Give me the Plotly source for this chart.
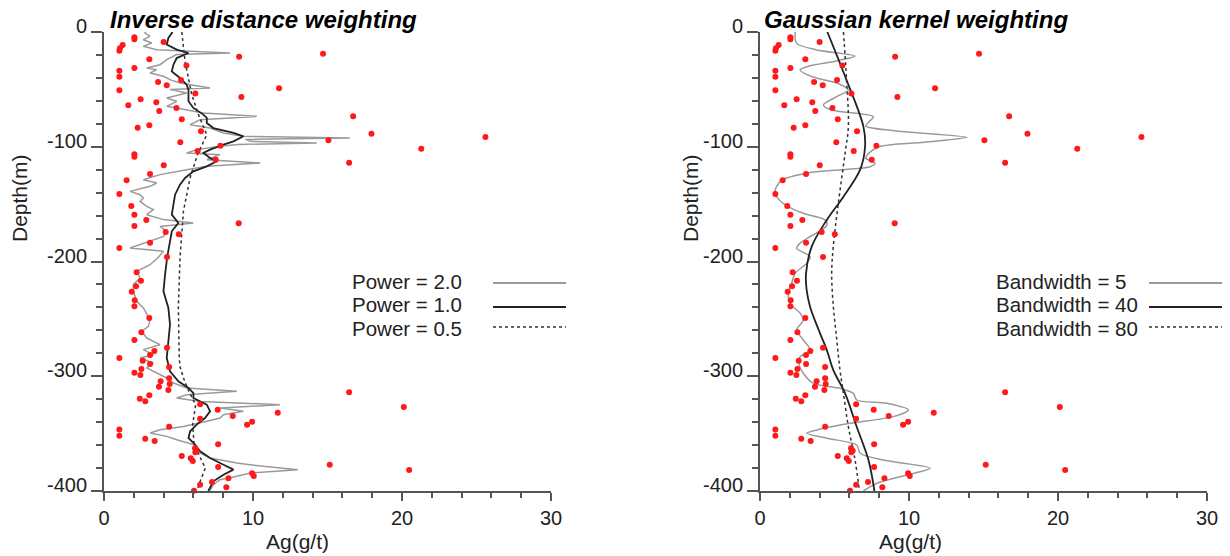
import plotly.graph_objects as go

# ---------------- data ----------------
sample_ag = [2.04, 2.04, 1.25, 1.07, 1.03, 4.0, 9.07, 14.7, 3.04, 5.53, 2.04, 1.03, 1.03, 5.17, 3.63, 4.21,
             11.75, 1.03, 6.13, 9.22, 2.46, 3.51, 1.63, 4.86, 3.71, 5.22, 16.72, 2.26, 3.04, 6.51, 17.95,
             25.6, 15.06, 5.12, 7.81, 6.29, 21.29, 2.04, 2.04, 7.5, 16.45, 4.01, 3.09, 1.52, 1.03, 1.83,
             2.04, 2.84, 9.04, 2.04, 4.14, 5.02, 3.09, 1.03, 4.23, 2.19, 2.48, 2.15, 1.86, 2.06, 2.04, 3.04,
             2.51, 2.04, 4.23, 3.38, 3.09, 1.03, 2.6, 3.09, 2.51, 4.37, 2.04, 2.44, 4.37, 3.8, 3.69, 4.41,
             4.32, 16.45, 3.04, 2.4, 2.77, 6.45, 20.12, 7.63, 11.66, 8.64, 6.45, 9.94, 9.6, 4.37, 1.03,
             1.03, 2.77, 3.4, 7.66, 6.11, 6.22, 6.13, 5.22, 5.82, 5.96, 15.15, 7.66, 20.48, 9.94, 10.05,
             8.35, 7.25, 6.45, 8.21, 6.04]
sample_depth = [-4.6, -6.3, -11.3, -14.2, -16.3, -8.7, -21.5, -18.9, -23.8, -29.3, -31.4, -33.7, -39.0,
                -41.8, -43.6, -46.5, -49.1, -50.8, -53.7, -56.6, -58.7, -61.3, -63.9, -66.2, -68.8, -76.1,
                -73.5, -83.4, -81.3, -86.5, -88.6, -91.5, -94.4, -96.1, -99.1, -103.7, -101.7, -106.6,
                -108.7, -111.3, -113.9, -116.2, -123.7, -129.2, -141.2, -151.6, -159.2, -163.8, -166.7,
                -169.1, -174.3, -176.3, -183.6, -188.2, -196.1, -209.4, -216.7, -221.6, -226.3, -233.8,
                -239.0, -249.2, -261.7, -268.4, -275.1, -278.0, -281.5, -284.1, -286.4, -289.3, -293.7,
                -291.9, -296.9, -298.9, -301.8, -304.4, -309.1, -306.8, -312.0, -314.0, -316.6, -319.5,
                -321.8, -324.5, -326.8, -329.1, -331.7, -334.6, -337.0, -339.6, -342.2, -343.9, -346.5,
                -351.8, -354.4, -356.4, -359.3, -362.8, -364.9, -366.3, -369.5, -371.5, -373.9, -377.1,
                -379.1, -381.7, -384.6, -386.9, -388.9, -392.2, -394.5, -396.8, -399.7]

# Inverse distance weighting curves
p20_depth = [0, -0.9, -3.8, -6.7, -9.6, -12.5, -15.4, -18.3, -19.7, -24.1, -28.5, -31.4, -32.8, -35.7, -38.6,
             -41.5, -44.4, -48.8, -50.2, -53.2, -57.5, -60.4, -64.8, -67.7, -70.6, -73.5, -76.4, -80.8,
             -83.7, -88.0, -90.9, -92.4, -93.6, -95.3, -96.7, -98.0, -99.6, -102.5, -105.4, -106.9,
             -111.3, -114.2, -117.1, -120.0, -124.3, -128.7, -131.6, -134.5, -138.9, -141.8, -144.7,
             -147.6, -151.9, -154.8, -159.2, -163.5, -166.4, -169.4, -173.7, -178.1, -182.4, -188.2,
             -191.1, -197.0, -202.8, -208.6, -214.4, -220.2, -226.0, -234.7, -240.5, -246.3, -250.7,
             -256.5, -260.9, -266.7, -272.5, -276.8, -281.2, -284.1, -288.5, -292.8, -297.2, -301.5,
             -305.9, -310.2, -313.1, -316.1, -319.0, -321.9, -324.8, -327.7, -330.6, -333.5, -336.4,
             -339.3, -343.7, -346.6, -349.5, -352.4, -355.3, -359.6, -365.4, -371.3, -375.6, -378.5,
             -381.4, -384.3, -387.2, -390.1, -394.5, -400.0]
p20_ag = [2.8, 2.75, 3.09, 2.64, 3.2, 2.64, 3.54, 8.46, 4.88, 4.21, 3.76, 2.87, 3.54, 3.09, 3.99,
          4.43, 5.1, 7.12, 4.43, 5.55, 4.21, 4.88, 4.21, 5.55, 6.67, 10.25, 6.45, 5.78,
          7.12, 8.02, 9.36, 16.5, 9.5, 9.81, 14.28, 9.0, 7.79, 6.22, 5.55, 7.79,
          6.9, 10.48, 6.9, 5.55, 3.76, 2.64, 3.54, 3.09, 1.75, 2.42, 2.64,
          2.42, 2.87, 3.31, 2.87, 3.99, 6.0, 3.76, 4.21, 3.99, 3.09, 1.75,
          3.99, 3.6, 3.09, 2.2, 2.42, 1.97, 1.97, 2.2, 2.64, 2.87, 3.09,
          2.98, 2.53, 2.87, 3.76, 2.64, 3.31, 2.42, 3.31, 2.87, 3.54, 4.21,
          4.66, 5.55, 8.91, 5.55, 4.88, 6.45, 11.82, 7.79, 9.36, 8.02, 7.79,
          6.9, 5.33, 3.76, 3.09, 4.21, 4.88, 6.0, 6.22, 7.12, 8.91, 10.7,
          13.0, 9.81, 8.91, 7.79, 7.34, 7.1]

p10_depth = [0, -0.9, -5.2, -11.0, -15.4, -18.3, -22.7, -28.5, -34.3, -40.1, -45.9, -50.3, -54.6, -60.4,
             -66.2, -72.0, -74.9, -79.3, -83.7, -88.0, -90.9, -95.3, -98.2, -102.5, -105.4, -109.8,
             -112.7, -117.1, -121.4, -127.2, -133.0, -141.8, -150.5, -159.2, -166.4, -173.7, -182.4,
             -191.1, -197.0, -211.5, -226.0, -240.5, -255.0, -269.6, -284.1, -295.7, -304.4, -310.2,
             -314.6, -319.0, -324.8, -330.6, -336.4, -342.2, -348.0, -353.8, -359.6, -365.4, -371.3,
             -377.1, -381.4, -385.8, -391.6, -400.0]
p10_ag = [4.6, 4.55, 4.32, 4.21, 4.88, 5.67, 4.88, 4.66, 4.55, 5.1, 5.55, 5.67, 5.67, 5.67,
          6.0, 6.67, 6.9, 6.9, 7.34, 8.69, 9.36, 8.69, 8.02, 7.12, 6.67, 7.12,
          7.57, 6.9, 6.0, 5.44, 5.1, 4.77, 4.66, 4.55, 4.99, 4.55, 4.43,
          4.32, 4.23, 4.1, 3.99, 4.32, 4.43, 4.32, 4.21, 4.43, 4.99, 5.67,
          6.0, 6.0, 6.9, 7.12, 6.78, 6.22, 5.78, 5.67, 6.11, 6.45, 7.12,
          8.02, 8.69, 8.02, 7.34, 7.0]

p05_depth = [0, -25.6, -54.6, -72.0, -89.5, -107.0, -127.0, -156.3, -197.0, -240.5, -284.0, -291.7,
             -304.0, -312.0, -325.0, -342.0, -360.0, -371.0, -380.0, -395.0, -400.0]
p05_ag = [5.22, 5.44, 5.89, 6.34, 6.9, 6.27, 5.78, 5.33, 5.1, 4.99, 5.05, 5.1,
          5.4, 5.66, 6.15, 5.95, 6.05, 6.45, 6.8, 6.35, 6.3]

# Gaussian kernel weighting curves
bw5_depth = [0, -9.9, -15.6, -20.9, -25.0, -30.0, -33.1, -39.0, -44.7, -50.5, -56.3, -63.6, -68.0, -73.8,
             -78.5, -82.0, -86.0, -91.8, -96.0, -100.0, -105.7, -110.0, -114.4, -117.4, -120.0, -123.0,
             -129.0, -135.0, -140.3, -145.0, -151.6, -158.0, -163.8, -168.0, -172.5, -178.0, -184.0,
             -188.5, -195.8, -201.6, -210.3, -219.0, -227.7, -236.4, -245.0, -251.0, -259.7, -268.4,
             -277.1, -283.0, -288.7, -297.4, -306.2, -310.5, -314.9, -320.7, -323.6, -329.4, -335.2,
             -341.0, -346.8, -349.7, -354.0, -359.9, -367.1, -373.0, -380.2, -386.0, -393.3, -400.0]
bw5_ag = [2.35, 2.46, 3.81, 6.38, 5.2, 3.2, 2.69, 3.5, 5.2, 5.93, 5.15, 4.25, 4.8, 7.61,
          7.3, 7.1, 9.0, 13.88, 11.0, 8.0, 7.3, 7.1, 7.72, 7.4, 5.5, 3.13,
          1.46, 1.1, 1.0, 1.2, 1.79, 2.9, 4.37, 4.5, 4.14, 3.4, 2.69,
          2.46, 3.36, 3.13, 2.35, 2.13, 1.9, 2.01, 2.69, 2.91, 2.46, 2.91,
          3.36, 2.69, 2.6, 2.91, 3.58, 5.37, 6.27, 6.49, 8.51, 9.96, 8.95,
          6.04, 3.81, 3.13, 4.48, 6.49, 6.72, 8.28, 11.42, 9.85, 7.84, 6.94]

bw40_depth = [0, -40.0, -82.5, -100.0, -120.0, -143.5, -163.8, -187.0, -210.3, -224.8, -239.4, -262.6,
              -277.0, -294.6, -314.9, -344.0, -373.0, -400.0]
bw40_ag = [4.52, 5.75, 6.94, 7.05, 6.72, 5.6, 4.48, 3.47, 3.09, 3.13, 3.36, 4.03,
           4.48, 4.92, 5.71, 6.49, 7.28, 7.68]

bw80_depth = [0, -40.0, -82.5, -105.7, -149.0, -187.0, -210.0, -239.0, -268.0, -294.6, -314.9, -344.0,
              -373.0, -400.0]
bw80_ag = [5.6, 5.8, 5.93, 5.71, 5.26, 4.92, 4.81, 4.92, 5.15, 5.37, 5.6, 5.93, 6.38, 6.67]

panel_titles = ["Inverse distance weighting", "Gaussian kernel weighting"]
legend_left = ["Power = 2.0", "Power = 1.0", "Power = 0.5"]
legend_right = ["Bandwidth = 5", "Bandwidth = 40", "Bandwidth = 80"]
x_title = "Ag(g/t)"
y_title = "Depth(m)"
y_ticks = [0, -100, -200, -300, -400]
y_ticktext = ["0", "-100", "-200", "-300", "-400"]
x_ticks = [0, 10, 20, 30]

# ---------------- figure ----------------
W, H = 1230, 556
FONT = "Liberation Sans, Arial, Helvetica, sans-serif"
TXT = "#222222"
AXC = "#555555"
GRAY = "#9a9a9a"
BLACK = "#222222"
DOT = "#333333"
RED = "rgb(255,25,25)"


def px(x):
    return x / W


def py(y):
    return (H - y) / H


fig = go.Figure()

curves = [
    ("x", "y", p20_ag, p20_depth, dict(color=GRAY, width=1.5)),
    ("x", "y", p10_ag, p10_depth, dict(color=BLACK, width=1.8)),
    ("x", "y", p05_ag, p05_depth, dict(color=DOT, width=1.5, dash="dot")),
    ("x2", "y2", bw5_ag, bw5_depth, dict(color=GRAY, width=1.5, shape="spline", smoothing=0.8)),
    ("x2", "y2", bw40_ag, bw40_depth, dict(color=BLACK, width=1.8, shape="spline", smoothing=1.0)),
    ("x2", "y2", bw80_ag, bw80_depth, dict(color=DOT, width=1.5, dash="dot", shape="spline", smoothing=1.0)),
]
for xa, ya, xs, ys, ln in curves:
    fig.add_trace(go.Scatter(x=xs, y=ys, mode="lines", line=ln, xaxis=xa, yaxis=ya,
                             showlegend=False, hoverinfo="skip"))

for xa, ya in [("x", "y"), ("x2", "y2")]:
    fig.add_trace(go.Scatter(x=sample_ag, y=sample_depth, mode="markers",
                             marker=dict(color=RED, size=6, line=dict(width=0)),
                             xaxis=xa, yaxis=ya, showlegend=False, cliponaxis=False))

ydom = [py(491), py(32)]
xdom1 = [px(104), px(551)]
xdom2 = [px(760), px(1207)]

xcommon = dict(range=[0, 30], tickvals=x_ticks, ticks="outside", ticklen=8, tickwidth=1.5,
               tickcolor=AXC, showline=True, linewidth=2, linecolor=AXC, showgrid=False, zeroline=False,
               tickfont=dict(family=FONT, size=20, color=TXT), automargin=False,
               minor=dict(dtick=2, ticks="outside", ticklen=5, tickwidth=1.5, tickcolor=AXC, showgrid=False),
               fixedrange=True)
ycommon = dict(range=[-400, 0], tickvals=y_ticks, ticktext=y_ticktext, ticks="outside", ticklen=11,
               tickwidth=1.5, tickcolor=AXC, showline=True, linewidth=2, linecolor=AXC, showgrid=False,
               zeroline=False, tickfont=dict(family=FONT, size=20, color=TXT), automargin=False,
               minor=dict(dtick=20, ticks="outside", ticklen=6, tickwidth=1.5, tickcolor=AXC, showgrid=False),
               ticklabelshift=-6, fixedrange=True)

fig.update_layout(
    width=W, height=H, margin=dict(l=0, r=0, t=0, b=0, pad=0),
    paper_bgcolor="white", plot_bgcolor="white", showlegend=False,
    xaxis=dict(domain=xdom1, anchor="y", **xcommon),
    yaxis=dict(domain=ydom, anchor="x", **ycommon),
    xaxis2=dict(domain=xdom2, anchor="y2", **xcommon),
    yaxis2=dict(domain=ydom, anchor="x2", **ycommon),
)

ann = []
# panel titles
for xpos, t in zip([108, 762], panel_titles):
    ann.append(dict(x=px(xpos), y=py(19), xref="paper", yref="paper", xanchor="left", yanchor="middle",
                    text="<b><i>" + t + "</i></b>", showarrow=False,
                    font=dict(family=FONT, size=24, color="black")))
# axis titles
for xc in [297, 910]:
    ann.append(dict(x=px(xc), y=py(541), xref="paper", yref="paper", xanchor="center", yanchor="middle",
                    text=x_title, showarrow=False, font=dict(family=FONT, size=21, color=TXT)))
for xc in [19, 690]:
    ann.append(dict(x=px(xc), y=py(198), xref="paper", yref="paper", xanchor="center", yanchor="middle",
                    text=y_title, textangle=-90, showarrow=False, font=dict(family=FONT, size=21, color=TXT)))

# legends (text + line swatches)
text_rows = [281.5, 304.8, 328.1]
line_rows = [283, 307, 327]
styles = [dict(color=GRAY, width=1.8), dict(color=BLACK, width=1.8), dict(color=DOT, width=1.5, dash="dot")]
shapes = []
for (tx, lx0, lx1, labels) in [(350, 493, 566, legend_left), (994, 1149, 1222, legend_right)]:
    for tr, lr, lab, st in zip(text_rows, line_rows, labels, styles):
        ann.append(dict(x=px(tx), y=py(tr), xref="paper", yref="paper", xanchor="left",
                        yanchor="middle", text=lab, showarrow=False,
                        font=dict(family=FONT, size=20.5, color=TXT)))
        shapes.append(dict(type="line", xref="paper", yref="paper", x0=px(lx0), x1=px(lx1),
                           y0=py(lr), y1=py(lr), line=st))

fig.update_layout(annotations=ann, shapes=shapes)
fig.write_html("out.html")
